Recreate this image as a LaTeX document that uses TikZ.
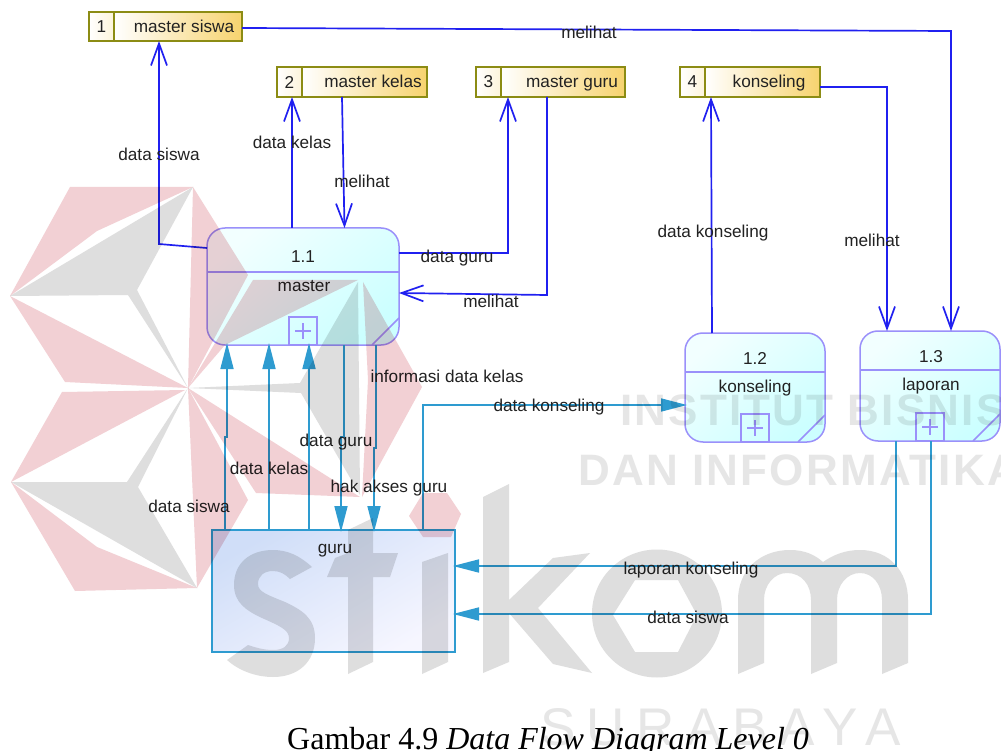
\documentclass[tikz,border=0pt]{standalone}
\usepackage{fontspec}
\setmainfont{Liberation Sans}
\newfontfamily\capfont{Liberation Serif}
\newfontfamily\wmfont[LetterSpace=5]{Liberation Sans Bold}
\newfontfamily\wmfontb[LetterSpace=21.5]{Liberation Sans}
\usetikzlibrary{arrows.meta,shadings,fadings,calc}
\definecolor{flowblue}{HTML}{2020F0}
\definecolor{flowteal}{HTML}{2E9BD0}
\definecolor{procline}{HTML}{9A90FA}
\definecolor{storeline}{HTML}{8C8C14}
\definecolor{storefill}{HTML}{F7D36E}
\definecolor{wmgrey}{HTML}{DEDEDE}
\definecolor{wmlight}{HTML}{E6E6E6}
\definecolor{wmred}{HTML}{F2D0D4}
\definecolor{inktext}{HTML}{222222}
\definecolor{guruA}{HTML}{D0DEF8}
\definecolor{guruB}{HTML}{F6F6FF}
\definecolor{procA}{HTML}{F2FFFF}
\definecolor{procB}{HTML}{CCFFFF}
\tikzset{
  flow/.style={draw=flowblue,line width=1.7pt,-{Straight Barb[length=22pt,width=16pt,line width=1.7pt]}},
  tflow/.style={draw=flowteal,line width=1.7pt,-{Triangle[length=26pt,width=13pt,sep=-2pt,fill=flowteal]}},
  lab/.style={font=\fontsize{17.2}{19}\selectfont,text=inktext,inner sep=0pt,anchor=base,yshift=-6pt},
  procbox/.style={draw=procline,line width=1.5pt,rounded corners=18pt,inner sep=0pt,outer sep=0pt,top color=procA,bottom color=procB,shading angle=40},
  procpart/.style={draw=procline,line width=1.5pt},
  plusbox/.style={draw=procline,line width=1.5pt,inner sep=0pt,outer sep=0pt,minimum width=28pt,minimum height=28pt},
  storemain/.style={draw=storeline,line width=1.5pt,inner sep=0pt,outer sep=0pt,left color=white,right color=storefill},
  storenum/.style={draw=storeline,line width=1.5pt,inner sep=0pt,outer sep=0pt,left color=white,right color=storefill!25},
  entitybox/.style={draw=flowteal,line width=1.5pt,inner sep=0pt,outer sep=0pt,top color=guruA,bottom color=guruB,shading angle=30},
  wmtext/.style={inner sep=0pt,text=wmlight,anchor=base west},
}
% name x0 xdiv x1 y0 y1 number
\newcommand{\mystore}[7]{%
  \node[storenum,minimum width={(#3-#2)*1pt},minimum height={(#6-#5)*1pt},anchor=north west,font=\fontsize{17.2}{19}\selectfont,text=inktext] (#1n) at (#2,#5) {#7};
  \node[storemain,minimum width={(#4-#3)*1pt},minimum height={(#6-#5)*1pt},anchor=north west] (#1) at (#3,#5) {};
}
% name x0 x1 y0 y1 ydiv plusx
\newcommand{\myproc}[7]{%
  \node[procbox,minimum width={(#3-#2)*1pt},minimum height={(#5-#4)*1pt},anchor=north west] (#1) at (#2,#4) {};
  \draw[procpart] (#1.west |- 0,#6) -- (#1.east |- 0,#6);
  \node[plusbox,anchor=south west] (#1p) at (#7,#5) {};
  \draw[procpart,line width=1.2pt] ($(#1p.center)+(-8,0)$) -- ($(#1p.center)+(8,0)$);
  \draw[procpart,line width=1.2pt] ($(#1p.center)+(0,-8)$) -- ($(#1p.center)+(0,8)$);
  \draw[procpart] ($(#1.south east)+(-27,0)$) -- ($(#1.south east)+(0,-27)$);
}
\begin{document}
\begin{tikzpicture}[x=1pt,y=-1pt]
\path[use as bounding box,fill=white] (0,0) rectangle (1001,751);
\clip (0,0) rectangle (1001,751);

% stores
\mystore{sa}{89}{114}{242}{12}{41}{1}
\mystore{sb}{277}{302}{427}{67}{97}{2}
\mystore{sc}{476}{501}{625}{67}{97}{3}
\mystore{sd}{680}{705}{820}{67}{97}{4}
\node[lab] (sal) at (184,26.5) {master siswa};
\node[lab] (sbl) at (373,82) {master kelas};
\node[lab] (scl) at (572,82) {master guru};
\node[lab] (sdl) at (769,82) {konseling};

% processes
\myproc{pa}{207}{399}{228}{345}{272}{289}
\myproc{pb}{685}{825}{333}{442}{372}{741}
\myproc{pc}{860}{1000}{331}{441}{370}{916}
\node[lab] (pan) at (303,257) {1.1};
\node[lab] (pal) at (304,286) {master};
\node[lab] (pbn) at (755,358) {1.2};
\node[lab] (pbl) at (755,386) {konseling};
\node[lab] (pcn) at (931,356) {1.3};
\node[lab] (pcl) at (931,384) {laporan};

% entity
\node[entitybox,minimum width=243pt,minimum height=122pt,anchor=north west] (guru) at (212,530) {};
\node[lab] (gurul) at (335,547) {guru};

% blue flows
\draw[flow] (pa.west |- 0,248) -- (159,244) -- (sa.south -| 159,0);
\draw[flow] (pa.north -| 292,0) -- (sbn.south -| 292,0);
\draw[flow] (sb.south -| 342,0) -- (pa.north -| 344.5,0);
\draw[flow] (pa.east |- 0,253) -- (508,253) -- (sc.south -| 508,0);
\draw[flow] (sc.south -| 547,0) -- (547,295) -- (pa.east |- 0,293);
\draw[flow] (pb.north -| 712,0) -- (sd.south -| 711,0);
\draw[flow] (sd.east |- 0,87) -- (887,87) -- (pc.north -| 887,0);
\draw[flow] (sa.east |- 0,28) -- (951,31) -- (pc.north -| 951,0);

% teal flows
\draw[tflow] (guru.north -| 225,0) -- (225,437) -- (227,437) -- (pa.south -| 227,0);
\draw[tflow] (guru.north -| 269,0) -- (pa.south -| 269,0);
\draw[tflow] (guru.north -| 309,0) -- (pap.south -| 309,0);
\draw[tflow] (pa.south -| 344,0) -- (344,437) -- (341,437) -- (guru.north -| 341,0);
\draw[tflow] (pa.south -| 376,0) -- (376,448) -- (374,448) -- (guru.north -| 374,0);
\draw[tflow] (guru.north -| 423,0) -- (423,405) -- (pb.west |- 0,405);
\draw[tflow] (pc.south -| 896,0) -- (896,566) -- (guru.east |- 0,566);
\draw[tflow] (pcp.south -| 931,0) -- (931,614) -- (guru.east |- 0,614);

% labels
\node[lab] (l1) at (589,33) {melihat};
\node[lab] (l2) at (159,155) {data siswa};
\node[lab] (l3) at (292,143) {data kelas};
\node[lab] (l4) at (362,182) {melihat};
\node[lab] (l5) at (457,257) {data guru};
\node[lab] (l6) at (491,301) {melihat};
\node[lab] (l7) at (713,232) {data konseling};
\node[lab] (l8) at (872,241) {melihat};
\node[lab] (l9) at (447,376) {informasi data kelas};
\node[lab] (l10) at (549,405) {data konseling};
\node[lab] (l11) at (336,440) {data guru};
\node[lab] (l12) at (269,468) {data kelas};
\node[lab] (l13) at (389,486) {hak akses guru};
\node[lab] (l14) at (189,506) {data siswa};
\node[lab] (l15) at (691,568) {laporan konseling};
\node[lab] (l16) at (688,617) {data siswa};

% caption
\node[inner sep=0pt,anchor=base west,text=black,font=\capfont\fontsize{32}{34}\selectfont] (cap) at (287,749) {Gambar 4.9 \textit{Data Flow Diagram Level 0}};

% watermark
\begin{scope}[blend mode=multiply]
  \fill[wmred] (70,187) -- (193,187) -- (97,231) -- (10,296) -- cycle;
  \fill[wmred] (10,296) -- (65,382) -- (188,388) -- cycle;
  \fill[wmred] (193,187) -- (248,275) -- (188,388) -- cycle;
  \fill[wmred] (253,280) -- (358,280) -- (225,345) -- (188,388) -- cycle;
  \fill[wmred] (363,282) -- (422,387) -- (362,497) -- (368,380) -- cycle;
  \fill[wmred] (188,388) -- (256,493) -- (360,497) -- cycle;
  \fill[wmred] (188,388) -- (248,500) -- (197,588) -- cycle;
  \fill[wmred] (185,390) -- (62,392) -- (11,482) -- cycle;
  \fill[wmred] (11,482) -- (75,591) -- (197,588) -- (97,547) -- cycle;
  \fill[wmred] (423,493) -- (447,493) -- (461,514) -- (451,537) -- (423,537) -- (409,516) -- cycle;
  \fill[wmgrey] (193,187) -- (137,290) -- (188,388) -- (128,295) -- (10,296) -- cycle;
  \fill[wmgrey] (11,482) -- (127,482) -- (188,388) -- (138,487) -- (197,588) -- cycle;
  \fill[wmgrey] (358,282) -- (300,383) -- (188,388) -- (301,393) -- (360,495) -- cycle;
  % s
  \fill[wmgrey] (312,567) .. controls (300,556) and (288,550) .. (273,550)
    .. controls (250,550) and (234,563) .. (234,585)
    .. controls (234,603) and (247,611) .. (262,618)
    .. controls (280,626) and (289,630) .. (289,638)
    .. controls (289,646) and (283,650) .. (273,650)
    .. controls (263,650) and (254,647) .. (248,645)
    -- (227,660) .. controls (238,670) and (255,677) .. (273,677)
    .. controls (298,677) and (315,662) .. (315,638)
    .. controls (315,618) and (302,610) .. (285,602)
    .. controls (268,595) and (258,592) .. (258,584)
    .. controls (258,576) and (264,571) .. (273,571)
    .. controls (280,571) and (285,574) .. (290,579) -- cycle;
  % t
  \fill[wmgrey] (348,530) -- (373,518) -- (373,553) -- (398,553) -- (390,577) -- (373,577) -- (373,662) -- (348,674) -- (348,577) -- (327,577) -- (335,558) -- (348,553) -- cycle;
  % i
  \fill[wmgrey] (422,562) -- (448,553) -- (448,662) -- (422,674) -- cycle;
  % k
  \fill[wmgrey] (483,497) -- (509,484) -- (509,600) -- (553,558) -- (590,553) -- (538,608) -- (592,673) -- (553,664) -- (509,613) -- (509,662) -- (483,673) -- cycle;
  % o
  \fill[wmgrey,even odd rule] (657,613.5) ellipse [x radius=65,y radius=64]
     (635,580) -- (678,580) -- (697,615) -- (678,652) -- (635,652) -- (613,615) -- cycle;
  % m
  \fill[wmgrey] (738,674) -- (738,600) .. controls (738,570) and (760,550) .. (790,550)
    .. controls (805,550) and (815,555) .. (823,562)
    .. controls (833,555) and (845,550) .. (860,550)
    .. controls (890,550) and (908,572) .. (908,600)
    -- (908,663) -- (882,674) -- (882,600) .. controls (882,585) and (873,573) .. (860,573)
    .. controls (847,573) and (837,585) .. (837,600)
    -- (837,663) -- (811,674) -- (811,600) .. controls (811,585) and (802,573) .. (787,573)
    .. controls (774,573) and (764,585) .. (764,600)
    -- (764,663) -- cycle;
  \node[wmtext,font=\wmfont\fontsize{44}{48}\selectfont] (wa) at (620,425) {INSTITUT BISNIS};
  \node[wmtext,font=\wmfont\fontsize{44}{48}\selectfont] (wb) at (578,485) {DAN INFORMATIKA};
  \node[wmtext,font=\wmfontb\fontsize{53}{58}\selectfont] (wc) at (540,745) {SURABAYA};
\end{scope}
\end{tikzpicture}
\end{document}
